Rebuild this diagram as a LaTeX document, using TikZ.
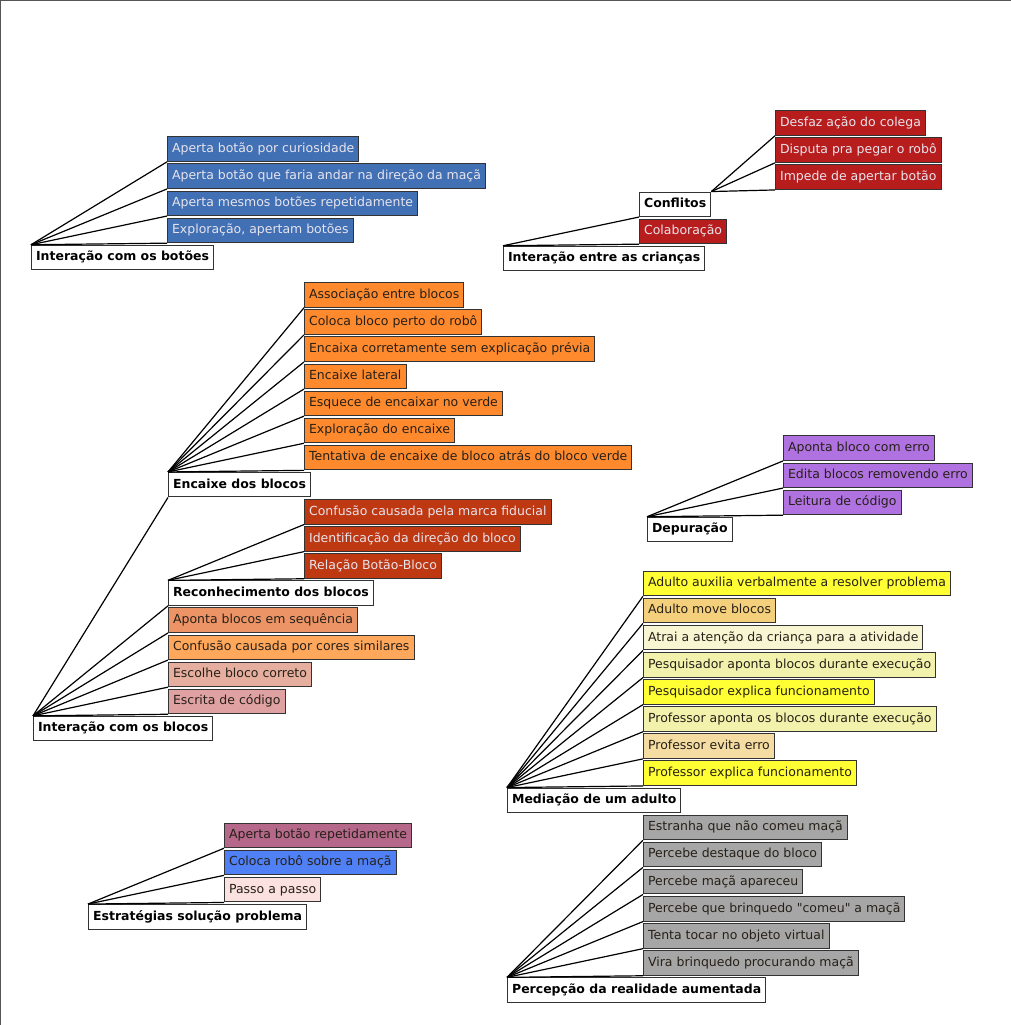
\documentclass[tikz,border=0pt]{standalone}
\usepackage{fontspec}
\setmainfont{DejaVu Sans}[Ligatures=TeXOff]
\usepackage{tikz}

\definecolor{frame}{HTML}{555555}
\definecolor{boxline}{HTML}{333333}
\definecolor{botao}{HTML}{4170B5}
\definecolor{crianca}{HTML}{B81D1E}
\definecolor{encaixe}{HTML}{FF8A2E}
\definecolor{reconh}{HTML}{BE3812}
\definecolor{aponta}{HTML}{EC9466}
\definecolor{cores}{HTML}{FFA85C}
\definecolor{escolhe}{HTML}{E6AE9E}
\definecolor{escrita}{HTML}{E0A1A2}
\definecolor{depura}{HTML}{B072E0}
\definecolor{amarelo}{HTML}{FFFF33}
\definecolor{move}{HTML}{F5D07C}
\definecolor{atrai}{HTML}{F8F6D2}
\definecolor{pesq}{HTML}{F2F2AC}
\definecolor{evita}{HTML}{F5DCA2}
\definecolor{cinza}{HTML}{A6A6A6}
\definecolor{repete}{HTML}{B5688A}
\definecolor{robo}{HTML}{4F80F5}
\definecolor{passo}{HTML}{FBE1E0}
\definecolor{claro}{HTML}{E8E4EC}
\definecolor{escuro}{HTML}{262018}

\tikzset{
  box/.style={draw=boxline, line width=1pt, minimum height=24.5pt,
    inner xsep=4.6pt, inner ysep=0pt, anchor=west,
    text height=9.2pt, text depth=2.6pt,
    font=\fontsize{12.48}{14}\selectfont},
  cat/.style={box, fill=white, text=black,
    font=\fontsize{12.48}{14}\selectfont\bfseries},
  leaf/.style args={#1/#2}{box, fill=#1, text=#2},
  link/.style={line width=1.2pt, black}
}

\begin{document}
\begin{tikzpicture}[x=1pt, y=-1pt]
    \useasboundingbox (0,0) rectangle (1011,1025);
    \draw[frame, line width=2pt] (0,1025) -- (0,0) -- (1011,0);

    % botoes
    \node[cat] (botoes) at (31,257.5) {Interação com os botões};
    \node[leaf=botao/claro] (b1) at (167,149.1) {Aperta botão por curiosidade};
    \node[leaf=botao/claro] (b2) at (167,176.2) {Aperta botão que faria andar na direção da maçã};
    \node[leaf=botao/claro] (b3) at (167,203.3) {Aperta mesmos botões repetidamente};
    \node[leaf=botao/claro] (b4) at (167,230.4) {Exploração, apertam botões};
    \foreach \c in {b1,b2,b3,b4}
        \draw[link] (botoes.north west) -- (\c.south west);

    % criancas
    \node[cat] (criancas) at (503,258.5) {Interação entre as crianças};
    \node[cat] (conflitos) at (639,204.3) {Conflitos};
    \node[leaf=crianca/claro] (colab) at (639,231.4) {Colaboração};
    \node[leaf=crianca/claro] (cf1) at (775,123.0) {Desfaz ação do colega};
    \node[leaf=crianca/claro] (cf2) at (775,150.1) {Disputa pra pegar o robô};
    \node[leaf=crianca/claro] (cf3) at (775,177.2) {Impede de apertar botão};
    \foreach \c in {conflitos,colab}
        \draw[link] (criancas.north west) -- (\c.south west);
    \foreach \c in {cf1,cf2,cf3}
        \draw[link] (conflitos.north east) -- (\c.south west);

    % blocos
    \node[cat] (blocos) at (33,728.6) {Interação com os blocos};
    \node[cat] (encaixe) at (168,484.7) {Encaixe dos blocos};
    \node[leaf=encaixe/escuro] (e1) at (304,295.0) {Associação entre blocos};
    \node[leaf=encaixe/escuro] (e2) at (304,322.1) {Coloca bloco perto do robô};
    \node[leaf=encaixe/escuro] (e3) at (304,349.2) {Encaixa corretamente sem explicação prévia};
    \node[leaf=encaixe/escuro] (e4) at (304,376.3) {Encaixe lateral};
    \node[leaf=encaixe/escuro] (e5) at (304,403.4) {Esquece de encaixar no verde};
    \node[leaf=encaixe/escuro] (e6) at (304,430.5) {Exploração do encaixe};
    \node[leaf=encaixe/escuro] (e7) at (304,457.6) {Tentativa de encaixe de bloco atrás do bloco verde};
    \node[cat] (reconh) at (168,593.1) {Reconhecimento dos blocos};
    \node[leaf=reconh/claro] (r1) at (304,511.8) {Confusão causada pela marca fiducial};
    \node[leaf=reconh/claro] (r2) at (304,538.9) {Identificação da direção do bloco};
    \node[leaf=reconh/claro] (r3) at (304,566.0) {Relação Botão-Bloco};
    \node[leaf=aponta/escuro] (bl1) at (168,620.2) {Aponta blocos em sequência};
    \node[leaf=cores/escuro] (bl2) at (168,647.3) {Confusão causada por cores similares};
    \node[leaf=escolhe/escuro] (bl3) at (168,674.4) {Escolhe bloco correto};
    \node[leaf=escrita/escuro] (bl4) at (168,701.5) {Escrita de código};
    \foreach \c in {encaixe,reconh,bl1,bl2,bl3,bl4}
        \draw[link] (blocos.north west) -- (\c.south west);
    \foreach \c in {e1,e2,e3,e4,e5,e6,e7}
        \draw[link] (encaixe.north west) -- (\c.south west);
    \foreach \c in {r1,r2,r3}
        \draw[link] (reconh.north west) -- (\c.south west);

    % depuracao
    \node[cat] (depur) at (647,529.5) {Depuração};
    \node[leaf=depura/escuro] (d1) at (783,448.2) {Aponta bloco com erro};
    \node[leaf=depura/escuro] (d2) at (783,475.3) {Edita blocos removendo erro};
    \node[leaf=depura/escuro] (d3) at (783,502.4) {Leitura de código};
    \foreach \c in {d1,d2,d3}
        \draw[link] (depur.north west) -- (\c.south west);

    % mediacao
    \node[cat] (mediacao) at (507,800.3) {Mediação de um adulto};
    \node[leaf=amarelo/escuro] (m1) at (643,583.5) {Adulto auxilia verbalmente a resolver problema};
    \node[leaf=move/escuro] (m2) at (643,610.6) {Adulto move blocos};
    \node[leaf=atrai/escuro] (m3) at (643,637.7) {Atrai a atenção da criança para a atividade};
    \node[leaf=pesq/escuro] (m4) at (643,664.8) {Pesquisador aponta blocos durante execução};
    \node[leaf=amarelo/escuro] (m5) at (643,691.9) {Pesquisador explica funcionamento};
    \node[leaf=pesq/escuro] (m6) at (643,719.0) {Professor aponta os blocos durante execução};
    \node[leaf=evita/escuro] (m7) at (643,746.1) {Professor evita erro};
    \node[leaf=amarelo/escuro] (m8) at (643,773.2) {Professor explica funcionamento};
    \foreach \c in {m1,m2,m3,m4,m5,m6,m7,m8}
        \draw[link] (mediacao.north west) -- (\c.south west);

    % percepcao
    \node[cat] (percep) at (507,990.1) {Percepção da realidade aumentada};
    \node[leaf=cinza/escuro] (p1) at (643,827.5) {Estranha que não comeu maçã};
    \node[leaf=cinza/escuro] (p2) at (643,854.6) {Percebe destaque do bloco};
    \node[leaf=cinza/escuro] (p3) at (643,881.7) {Percebe maçã apareceu};
    \node[leaf=cinza/escuro] (p4) at (643,908.8) {Percebe que brinquedo "comeu" a maçã};
    \node[leaf=cinza/escuro] (p5) at (643,935.9) {Tenta tocar no objeto virtual};
    \node[leaf=cinza/escuro] (p6) at (643,963.0) {Vira brinquedo procurando maçã};
    \foreach \c in {p1,p2,p3,p4,p5,p6}
        \draw[link] (percep.north west) -- (\c.south west);

    % estrategias
    \node[cat] (estrat) at (88,916.8) {Estratégias solução problema};
    \node[leaf=repete/escuro] (s1) at (224,835.5) {Aperta botão repetidamente};
    \node[leaf=robo/escuro] (s2) at (224,862.6) {Coloca robô sobre a maçã};
    \node[leaf=passo/escuro] (s3) at (224,889.7) {Passo a passo};
    \foreach \c in {s1,s2,s3}
        \draw[link] (estrat.north west) -- (\c.south west);
\end{tikzpicture}
\end{document}
